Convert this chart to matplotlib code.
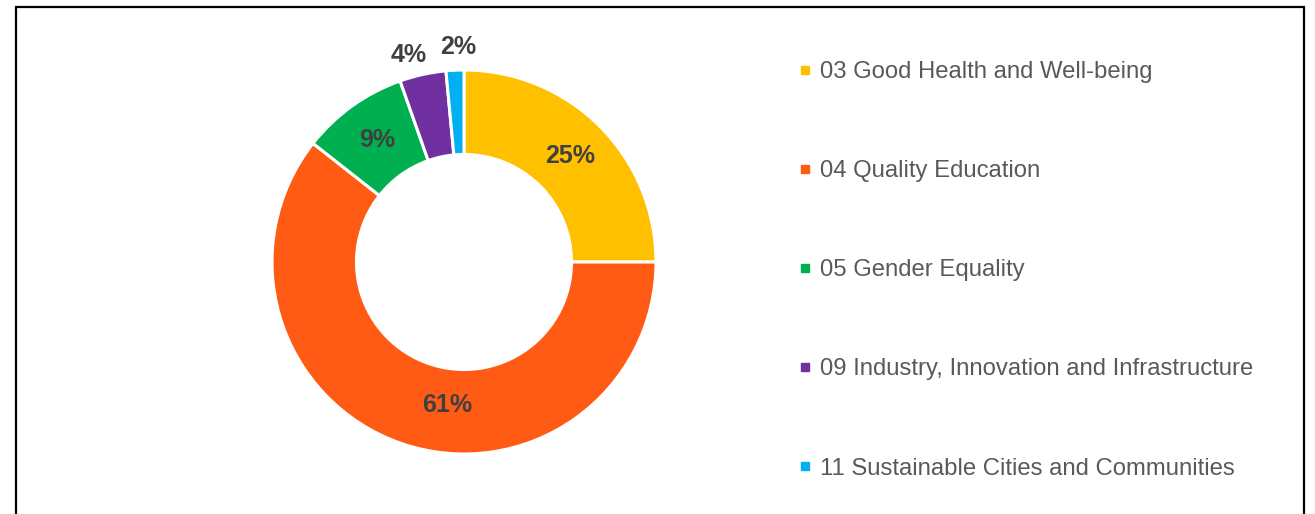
import matplotlib

matplotlib.use("Agg")

import matplotlib.pyplot as plt
import numpy as np
from matplotlib.lines import Line2D
from matplotlib.patches import Rectangle

plt.rcParams["font.family"] = ["Liberation Sans", "DejaVu Sans"]

CATEGORIES = [
    "03 Good Health and Well-being",
    "04 Quality Education",
    "05 Gender Equality",
    "09 Industry, Innovation and Infrastructure",
    "11 Sustainable Cities and Communities",
]
SHARES = [25.0, 60.6, 9.0, 3.9, 1.5]
COLORS = ["#FFC000", "#FF5B14", "#00B050", "#7030A0", "#00B0F0"]

W, H = 1315, 514

# label placement (angle in degrees, radius in pie units); None -> slice middle
LABEL_POS = [None, (-96.8, 0.75), None, (105.0, 1.115), (91.5, 1.12)]


def main():
    fig = plt.figure(figsize=(W / 100, H / 100), dpi=100)

    # outer frame, bottom edge falls off the canvas
    fig.patches.append(
        Rectangle(
            (16 / W, -0.05), (1304 - 16) / W, 1.05 - 7 / H,
            transform=fig.transFigure, fill=False, edgecolor="black",
            linewidth=1.6, clip_on=False,
        )
    )

    cx, cy, r = 464, 262, 192
    ax = fig.add_axes([(cx - r) / W, (H - cy - r) / H, 2 * r / W, 2 * r / H])
    wedges, _ = ax.pie(
        SHARES,
        colors=COLORS,
        startangle=90,
        counterclock=False,
        radius=1.0,
        wedgeprops={"width": 0.44, "edgecolor": "white", "linewidth": 2.2},
    )
    ax.set_xlim(-1, 1)
    ax.set_ylim(-1, 1)
    ax.set_aspect("equal")
    ax.axis("off")

    total = sum(SHARES)
    for w, val, pos in zip(wedges, SHARES, LABEL_POS):
        if pos is None:
            ang, rr = (w.theta1 + w.theta2) / 2, 0.78
        else:
            ang, rr = pos
        ang = np.deg2rad(ang)
        ax.text(
            rr * np.cos(ang), rr * np.sin(ang), f"{val / total * 100:.0f}%",
            ha="center", va="center", fontsize=18, fontweight="bold",
            color="#404040",
        )

    handles = [
        Line2D([], [], marker="s", linestyle="none", markersize=6,
               markerfacecolor=c, markeredgecolor=c)
        for c in COLORS
    ]
    fig.legend(
        handles, CATEGORIES,
        loc="upper left", bbox_to_anchor=(798 / W, 1 - 61 / H),
        frameon=False, fontsize=17.2, labelcolor="#595959",
        labelspacing=3.23, handlelength=0.6, handletextpad=0.3,
        borderpad=0, borderaxespad=0,
    )

    fig.savefig("out.png", dpi=100)
    plt.close(fig)


if __name__ == "__main__":
    main()
